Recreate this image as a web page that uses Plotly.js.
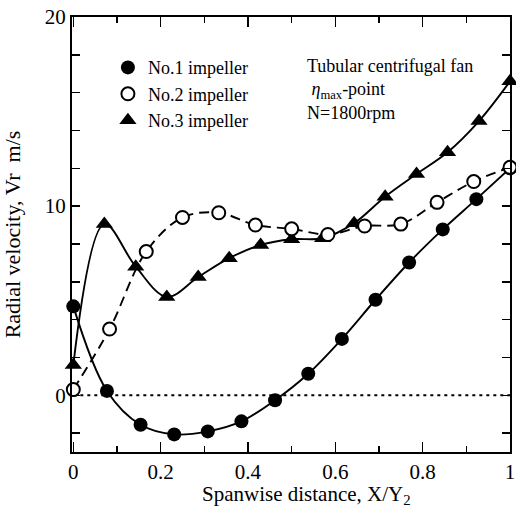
<!DOCTYPE html>
<html>
<head>
<meta charset="utf-8">
<script src="https://cdn.plot.ly/plotly-3.0.1.min.js"></script>
<style>html,body{margin:0;padding:0;background:#fff;}#chart{width:516px;height:509px;}</style>
</head>
<body>
<div id="chart"></div>
<script>
// Spanwise positions and radial velocities (m/s)
const x1 = [0, 0.077, 0.154, 0.231, 0.308, 0.385, 0.462, 0.538, 0.615, 0.692, 0.769, 0.846, 0.923, 1.0];
const y1 = [4.7, 0.23, -1.56, -2.07, -1.91, -1.38, -0.26, 1.14, 2.98, 5.05, 7.02, 8.77, 10.37, 12.0];

const x2 = [0, 0.083, 0.167, 0.25, 0.333, 0.417, 0.5, 0.583, 0.667, 0.75, 0.833, 0.917, 1.0];
const y2 = [0.3, 3.5, 7.6, 9.4, 9.65, 9.0, 8.8, 8.5, 8.95, 9.05, 10.2, 11.3, 12.05];

const x3 = [0, 0.071, 0.143, 0.214, 0.286, 0.357, 0.429, 0.5, 0.571, 0.643, 0.714, 0.786, 0.857, 0.929, 1.0];
const y3 = [1.6, 9.05, 6.8, 5.2, 6.25, 7.25, 7.95, 8.25, 8.3, 9.1, 10.5, 11.7, 12.85, 14.5, 16.6];

const names = ["No.1 impeller", "No.2 impeller", "No.3 impeller"];
const xTickVals = [0, 0.2, 0.4, 0.6, 0.8, 1];
const yTickVals = [0, 10, 20];
const zeroLineX = [0, 1];
const xTitle = "Spanwise distance, X/Y<sub>2</sub>";
const yTitle = "Radial velocity, Vr  m/s";

const serif = "Liberation Serif, Times New Roman, serif";

const lineTraces = [
  {x: x1, y: y1, mode: "lines", line: {color: "black", width: 1.9, shape: "spline", smoothing: 1}, showlegend: false, hoverinfo: "skip", cliponaxis: false},
  {x: x2, y: y2, mode: "lines", line: {color: "black", width: 1.9, shape: "spline", smoothing: 1, dash: "10px,6px"}, showlegend: false, hoverinfo: "skip", cliponaxis: false},
  {x: x3, y: y3, mode: "lines", line: {color: "black", width: 1.9, shape: "spline", smoothing: 1}, showlegend: false, hoverinfo: "skip", cliponaxis: false}
];

const markerTraces = [
  {x: x3, y: y3, name: names[2], legendrank: 3, mode: "markers", cliponaxis: false,
   marker: {symbol: "triangle-up", size: 15, color: "black"}},
  {x: x1, y: y1, name: names[0], legendrank: 1, mode: "markers", cliponaxis: false,
   marker: {symbol: "circle", size: 14, color: "black"}},
  {x: x2, y: y2, name: names[1], legendrank: 2, mode: "markers", cliponaxis: false,
   marker: {symbol: "circle", size: 13, color: "white", line: {color: "black", width: 2}}}
];

const layout = {
  width: 516, height: 509,
  margin: {l: 72, r: 6, t: 17, b: 57},
  paper_bgcolor: "white", plot_bgcolor: "white",
  font: {family: serif, color: "black", size: 18},
  showlegend: true,
  legend: {x: 0.082, y: 0.926, xanchor: "left", yanchor: "top", bgcolor: "rgba(0,0,0,0)",
           font: {family: serif, size: 18, color: "black"}, traceorder: "normal"},
  xaxis: {
    range: [-0.003, 1.0], tickvals: xTickVals, ticktext: xTickVals.map(String),
    ticks: "inside", ticklen: 10, tickwidth: 1.5, tickcolor: "black",
    minor: {dtick: 0.1, ticks: "inside", ticklen: 6, tickwidth: 1.5, tickcolor: "black"},
    showline: true, linecolor: "black", linewidth: 2, mirror: "ticks",
    showgrid: false, zeroline: false,
    tickfont: {family: serif, size: 21, color: "black"}
  },
  yaxis: {
    range: [-3, 20], tickvals: yTickVals, ticktext: yTickVals.map(String),
    ticks: "inside", ticklen: 8, tickwidth: 1.5, tickcolor: "black",
    minor: {dtick: 2, tick0: 0, ticks: "inside", ticklen: 8, tickwidth: 1.5, tickcolor: "black"},
    showline: true, linecolor: "black", linewidth: 2, mirror: "ticks",
    showgrid: false, zeroline: false,
    tickfont: {family: serif, size: 21, color: "black"},
    title: {text: yTitle, font: {family: serif, size: 22, color: "black"}}
  },
  shapes: [
    {type: "line", xref: "x", yref: "y", x0: zeroLineX[0], x1: zeroLineX[1], y0: 0, y1: 0,
     line: {color: "black", width: 2, dash: "3px,4px"}, layer: "below"}
  ],
  annotations: [
    {xref: "paper", yref: "paper", x: 0.532, y: 0.915, xanchor: "left", yanchor: "top", align: "left", showarrow: false,
     text: "Tubular centrifugal fan<br> <i>η</i><sub>max</sub>-point<br>N=1800rpm",
     font: {family: serif, size: 18, color: "black"}},
    {xref: "paper", yref: "paper", x: 0.535, y: -0.099, xanchor: "center", yanchor: "middle", showarrow: false,
     text: xTitle, font: {family: serif, size: 21, color: "black"}}
  ]
};

Plotly.newPlot("chart", lineTraces.concat(markerTraces), layout, {staticPlot: true, displayModeBar: false});
</script>
</body>
</html>
